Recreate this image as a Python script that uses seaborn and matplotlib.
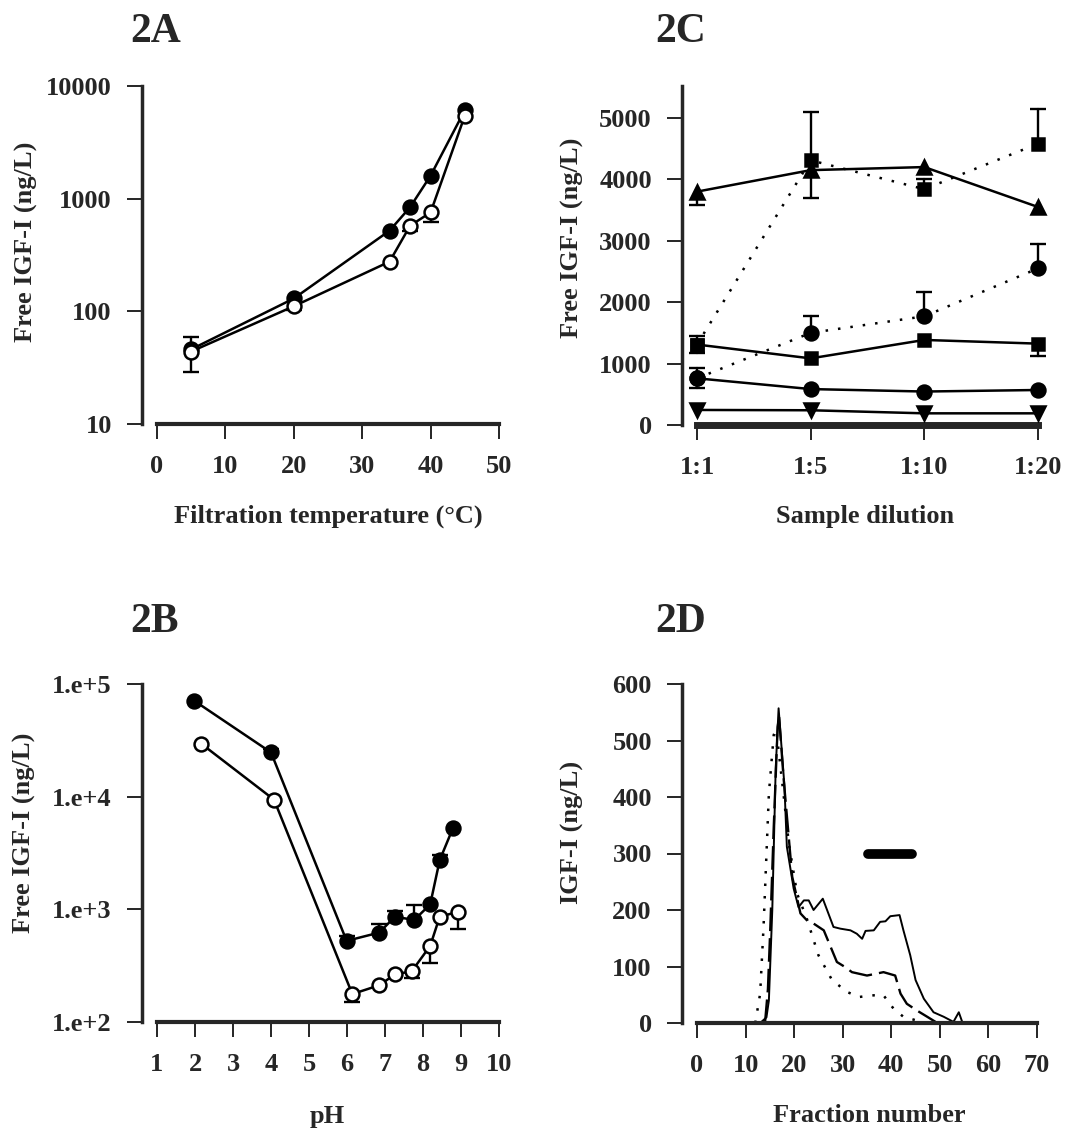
import numpy as np
import pandas as pd
import matplotlib
matplotlib.use("Agg")
import matplotlib.pyplot as plt
import seaborn as sns

# 2A - filtration temperature
temp_filled = [5, 20, 34, 37, 40, 45]
igf_temp_filled = [46, 130, 520, 840, 1600, 6100]
temp_open = [5, 20, 34, 37, 40, 45]
igf_temp_open = [44, 111, 276, 575, 755, 5450]
temp_open_err_lo = [15, 8, 0, 60, 140, 0]
temp_open_err_hi = [15, 0, 0, 0, 0, 0]

# 2B - pH
ph_filled = [1.98, 4.0, 5.99, 6.85, 7.26, 7.77, 8.19, 8.44, 8.79]
igf_ph_filled = [71000, 24700, 525, 622, 860, 805, 1107, 2735, 5280]
ph_filled_err_hi = [0, 2000, 60, 120, 100, 280, 0, 300, 0]
ph_open = [2.17, 4.08, 6.14, 6.85, 7.27, 7.70, 8.19, 8.44, 8.91]
igf_ph_open = [29400, 9400, 177, 212, 266, 281, 474, 861, 947]
ph_open_err_lo = [0, 0, 26, 0, 0, 33, 137, 0, 272]

# 2C - sample dilution
dilutions = ["1:1", "1:5", "1:10", "1:20"]
tri_up = [3800, 4150, 4200, 3550]
tri_up_err_lo = [220, 450, 0, 0]
sq_dotted = [1310, 4310, 3840, 4580]
sq_dotted_err_hi = [0, 790, 160, 560]
circ_dotted = [760, 1500, 1770, 2550]
circ_dotted_err_hi = [0, 270, 390, 400]
sq_solid = [1310, 1085, 1385, 1325]
sq_solid_err_lo = [140, 0, 0, 200]
sq_solid_err_hi = [140, 0, 0, 0]
circ_solid = [760, 585, 545, 570]
circ_solid_err = [160, 0, 0, 0]
tri_down = [245, 240, 190, 190]

# 2D - fraction profiles
frac_solid = [13.0, 14.3, 14.8, 15.5, 16.2, 16.8, 17.3, 18.0, 18.5, 19.9, 20.9, 22.0, 23.0,
              24.0, 25.9, 28.1, 29.5, 31.6, 32.9, 34.0, 34.7, 36.4, 37.7, 38.8, 39.8,
              41.7, 42.5, 43.9, 45.0, 46.7, 48.7, 50.8, 52.8, 53.9, 54.6]
igf_solid = [0, 10, 40, 200, 450, 557, 500, 420, 312, 238, 205, 217, 217,
             200, 220, 170, 167, 164, 158, 149, 163, 164, 179, 180, 189,
             191, 164, 120, 76, 43, 19, 11, 2, 19, 2]
frac_dashed = [14.0, 14.6, 15.1, 15.8, 16.6, 16.9, 17.8, 19.6, 21.3, 22.6, 24.0, 26.1,
               27.5, 28.8, 30.5, 31.9, 35.0, 38.4, 40.8, 41.9, 43.2, 45.3, 47.4, 49.1]
igf_dashed = [0, 60, 170, 347, 524, 542, 436, 259, 194, 182, 176, 164,
              135, 108, 99, 90, 84, 90, 84, 52, 34, 22, 11, 2]
frac_dotted = [12.0, 13.0, 13.7, 14.8, 15.8, 16.3, 17.8, 18.9, 20.6, 22.6, 25.0, 27.8,
               30.9, 33.3, 36.4, 38.4, 40.5, 42.5, 45.0, 46.8]
igf_dotted = [0, 52, 170, 406, 510, 520, 406, 318, 229, 185, 120, 76,
              55, 46, 49, 49, 25, 11, 5, 0]
bar_frac = [35.3, 44.3]
bar_level = [300, 300]

sns.set_theme(style="ticks")
plt.rcParams['font.family'] = ['Liberation Serif', 'DejaVu Serif']
plt.rcParams['font.weight'] = 'bold'

W, H = 1065, 1129
fig = plt.figure(figsize=(W / 100, H / 100), dpi=100)

def px_axes(x0, x1, ytop, ybot):
    return fig.add_axes([x0 / W, 1 - ybot / H, (x1 - x0) / W, (ybot - ytop) / H])

def style_axes(ax, bottom_lw=3):
    sns.despine(ax=ax)
    ax.spines['left'].set_position(('outward', 10.5))
    ax.spines['left'].set_linewidth(2.5)
    ax.spines['bottom'].set_linewidth(bottom_lw)
    ax.tick_params(axis='both', length=11, width=1.2, pad=11, labelsize=19, color='black')
    for lab in ax.get_xticklabels() + ax.get_yticklabels():
        lab.set_fontweight('bold')
    ax.set_xlabel('')
    ax.set_ylabel('')
    ax.grid(False)
    ax.set_facecolor('white')

def draw(ax, x, y, marker, filled=True, ls='-', ms=10):
    df = pd.DataFrame({'x': x, 'y': y})
    sns.lineplot(data=df, x='x', y='y', ax=ax, sort=False, color='black', lw=1.8,
                 linestyle=ls, marker=marker, markersize=ms,
                 markerfacecolor='black' if filled else 'white',
                 markeredgecolor='black', markeredgewidth=1.8, errorbar=None, zorder=3)

def errs(ax, x, y, lo, hi):
    for xi, yi, l, h in zip(x, y, lo, hi):
        for end in ([yi - l] if l > 0 else []) + ([yi + h] if h > 0 else []):
            ax.plot([xi, xi], [yi, end], color='black', lw=1.7, zorder=2, clip_on=False)
            ax.plot([xi], [end], marker='_', ms=11, mew=1.7, color='black',
                    zorder=2, clip_on=False)

dot = (0, (1, 4))

# ---- 2A
axA = px_axes(157, 499, 86, 424)
errs(axA, temp_open, igf_temp_open, temp_open_err_lo, temp_open_err_hi)
draw(axA, temp_filled, igf_temp_filled, 'o', True)
draw(axA, temp_open, igf_temp_open, 'o', False)
axA.set_yscale('log')
axA.set_xlim(0, 50)
axA.set_ylim(10, 10000)
axA.set_xticks([0, 10, 20, 30, 40, 50])
axA.set_yticks([10, 100, 1000, 10000])
axA.set_yticklabels(['10', '100', '1000', '10000'])
axA.minorticks_off()
style_axes(axA)

# ---- 2B
axB = px_axes(157, 499, 684, 1022)
errs(axB, ph_filled, igf_ph_filled, [0] * len(ph_filled), ph_filled_err_hi)
errs(axB, ph_open, igf_ph_open, ph_open_err_lo, [0] * len(ph_open))
draw(axB, ph_filled, igf_ph_filled, 'o', True)
draw(axB, ph_open, igf_ph_open, 'o', False)
axB.set_yscale('log')
axB.set_xlim(1, 10)
axB.set_ylim(100, 100000)
axB.set_xticks(range(1, 11))
axB.set_yticks([1e2, 1e3, 1e4, 1e5])
axB.set_yticklabels(['1.e+2', '1.e+3', '1.e+4', '1.e+5'])
axB.minorticks_off()
style_axes(axB)

# ---- 2C
axC = px_axes(697, 1038, 86, 425)
pos = list(range(len(dilutions)))
errs(axC, pos, tri_up, tri_up_err_lo, [0] * 4)
errs(axC, pos, sq_dotted, [0] * 4, sq_dotted_err_hi)
errs(axC, pos, circ_dotted, [0] * 4, circ_dotted_err_hi)
errs(axC, pos, sq_solid, sq_solid_err_lo, sq_solid_err_hi)
errs(axC, pos, circ_solid, circ_solid_err, circ_solid_err)
draw(axC, pos, sq_dotted, 's', True, ls=dot, ms=8.5)
draw(axC, pos, circ_dotted, 'o', True, ls=dot, ms=10)
draw(axC, pos, tri_up, '^', True, ms=10.5)
draw(axC, pos, sq_solid, 's', True, ms=8.5)
draw(axC, pos, circ_solid, 'o', True, ms=10)
draw(axC, pos, tri_down, 'v', True, ms=10)
axC.set_xlim(0, 3)
axC.set_ylim(0, 5520)
axC.set_xticks(pos)
axC.set_xticklabels(dilutions)
axC.set_yticks([0, 1000, 2000, 3000, 4000, 5000])
style_axes(axC, bottom_lw=5)
for ln in axC.lines:
    ln.set_clip_on(False)

# ---- 2D
axD = px_axes(697, 1037, 684, 1023)
for fx, fy, ls, lw in [(frac_dotted, igf_dotted, (0, (1, 4)), 1.8),
                       (frac_dashed, igf_dashed, (0, (10, 3)), 1.7),
                       (frac_solid, igf_solid, '-', 1.4)]:
    sns.lineplot(x=fx, y=fy, ax=axD, sort=False, color='black', lw=lw,
                 linestyle=ls, errorbar=None)
sns.lineplot(x=bar_frac, y=bar_level, ax=axD, color='black', lw=7,
             solid_capstyle='round', errorbar=None)
axD.set_xlim(0, 70)
axD.set_ylim(0, 600)
axD.set_xticks(range(0, 80, 10))
axD.set_yticks(range(0, 700, 100))
style_axes(axD)

# panel tags and axis titles
for tag, x, y in [('2A', 130, 42), ('2C', 655, 42), ('2B', 130, 632), ('2D', 655, 632)]:
    fig.text(x / W, 1 - y / H, tag, fontsize=30, fontweight='bold', va='baseline', ha='left')

for txt, x, y in [('Free IGF-I (ng/L)', 26, 242), ('Free IGF-I (ng/L)', 572, 238),
                  ('Free IGF-I (ng/L)', 24, 833), ('IGF-I (ng/L)', 572, 832)]:
    fig.text(x / W, 1 - y / H, txt, fontsize=19, fontweight='bold', rotation=90,
             ha='center', va='center')

for txt, x, y in [('Filtration temperature (°C)', 328, 516), ('Sample dilution', 865, 516),
                  ('pH', 327, 1116), ('Fraction number', 869, 1116)]:
    fig.text(x / W, 1 - y / H, txt, fontsize=19, fontweight='bold', ha='center', va='center')

fig.savefig('out.png', dpi=100, facecolor='white')
